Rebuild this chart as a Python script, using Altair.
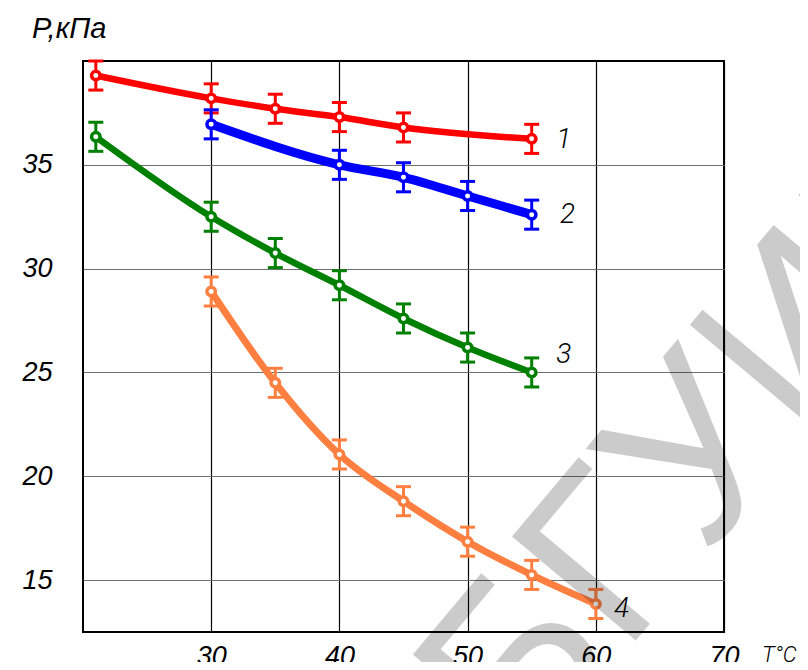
import altair as alt
import pandas as pd

# ---- data ----
series_names = ["1", "2", "3", "4"]
x1 = [21, 30, 35, 40, 45, 55]
y1 = [39.3, 38.2, 37.7, 37.3, 36.8, 36.25]
x2 = [30, 40, 45, 50, 55]
y2 = [36.95, 35.0, 34.4, 33.5, 32.6]
x3 = [21, 30, 35, 40, 45, 50, 55]
y3 = [36.35, 32.5, 30.75, 29.2, 27.6, 26.2, 25.0]
x4 = [30, 35, 40, 45, 50, 55, 60]
y4 = [28.9, 24.5, 21.05, 18.8, 16.85, 15.25, 13.85]
err = 0.7
label_x = [57.5, 57.8, 57.5, 62.0]
label_y = [36.2, 32.6, 25.85, 13.6]
x_ticks = [30, 40, 50, 60, 70]
y_ticks = [15, 20, 25, 30, 35]
y_title = ["P,кПа"]
x_title = ["T°C"]
watermark = ["БГУИР"]

colors = ["#ff0000", "#0000ff", "#008000", "#ff7f40"]
widths = [6.5, 9, 6.5, 7]

xs = [x1, x2, x3, x4]
ys = [y1, y2, y3, y4]

W, H = 641, 571
xscale = alt.Scale(domain=[20, 70], nice=False, zero=False)
yscale = alt.Scale(domain=[12.5, 40], nice=False, zero=False)

xaxis = alt.Axis(values=x_ticks, grid=True, gridColor="#000000", gridWidth=1.2,
                 ticks=False, domain=False, labelFontSize=27, labelFont="Liberation Sans",
                 labelFontStyle="italic", labelColor="#000", labelPadding=11,
                 labelFlush=False, labelOverlap=False, title=None, format="d")
yaxis = alt.Axis(values=y_ticks, grid=True, gridColor="#6e6e6e", gridWidth=1.2,
                 ticks=False, domain=False, labelFontSize=27, labelFont="Liberation Sans",
                 labelFontStyle="italic", labelColor="#000", labelPadding=31,
                 labelFlush=False, labelOverlap=False, title=None, format="d")

base_grid = alt.Chart(pd.DataFrame({"x": [20], "y": [40]})).mark_point(opacity=0).encode(
    x=alt.X("x:Q", scale=xscale, axis=xaxis),
    y=alt.Y("y:Q", scale=yscale, axis=yaxis),
)

layers = [base_grid]
for i, name in enumerate(series_names):
    df = pd.DataFrame({"x": xs[i], "y": ys[i]})
    df["lo"] = df["y"] - err
    df["hi"] = df["y"] + err
    c = colors[i]
    b = alt.Chart(df)
    line = b.mark_line(color=c, strokeWidth=widths[i], interpolate="monotone").encode(
        x=alt.X("x:Q", scale=xscale), y=alt.Y("y:Q", scale=yscale))
    bar = b.mark_rule(color=c, strokeWidth=3).encode(
        x=alt.X("x:Q", scale=xscale), y=alt.Y("lo:Q", scale=yscale), y2="hi:Q")
    cap_lo = b.mark_point(shape="M-1,0L1,0", size=225, strokeWidth=3, color=c,
                          filled=False, opacity=1).encode(
        x=alt.X("x:Q", scale=xscale), y=alt.Y("lo:Q", scale=yscale))
    cap_hi = b.mark_point(shape="M-1,0L1,0", size=225, strokeWidth=3, color=c,
                          filled=False, opacity=1).encode(
        x=alt.X("x:Q", scale=xscale), y=alt.Y("hi:Q", scale=yscale))
    pt = b.mark_point(shape="circle", size=72, strokeWidth=3.5, stroke=c,
                      fill="#ffffff", filled=True, opacity=1).encode(
        x=alt.X("x:Q", scale=xscale), y=alt.Y("y:Q", scale=yscale))
    layers += [line, bar, cap_lo, cap_hi, pt]

lab_df = pd.DataFrame({"x": label_x, "y": label_y, "t": series_names})
labels = alt.Chart(lab_df).mark_text(font="Roboto", fontStyle="italic", fontWeight=300,
                                     fontSize=28, color="#000", align="center",
                                     baseline="middle").encode(
    x=alt.X("x:Q", scale=xscale), y=alt.Y("y:Q", scale=yscale), text="t:N")

ytitle = alt.Chart(pd.DataFrame({"t": y_title})).mark_text(
    font="Liberation Sans", fontStyle="italic", fontSize=29, color="#000",
    align="left", baseline="middle").encode(
    x=alt.value(-51), y=alt.value(-32), text="t:N")

xtitle = alt.Chart(pd.DataFrame({"t": x_title})).mark_text(
    font="Roboto", fontStyle="italic", fontWeight=300, fontSize=22, color="#000",
    align="left", baseline="middle").encode(
    x=alt.value(679), y=alt.value(594), text="t:N")

wm = alt.Chart(pd.DataFrame({"t": watermark})).mark_text(
    font="Liberation Sans", fontSize=235, color="#000", opacity=0.2, angle=310,
    align="center", baseline="middle").encode(
    x=alt.value(630), y=alt.value(377), text="t:N")

chart = alt.layer(*layers, labels, ytitle, xtitle, wm).properties(
    width=W, height=H,
    autosize=alt.AutoSizeParams(type="none"),
    padding={"left": 75, "top": 53, "right": 76, "bottom": 30},
).configure_view(stroke="#000000", strokeWidth=2)

chart.save("out.html", embed_options={"renderer": "svg", "actions": False})
